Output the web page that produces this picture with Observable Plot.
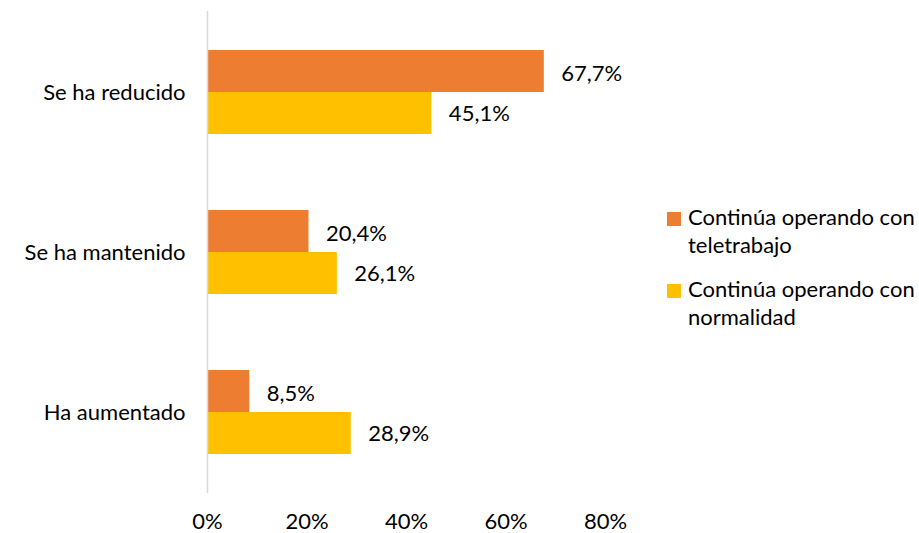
<!DOCTYPE html>
<html>
<head>
<meta charset="utf-8">
<script src="https://cdn.jsdelivr.net/npm/d3@7"></script>
<script src="https://cdn.jsdelivr.net/npm/@observablehq/plot@0.6"></script>
<style>
  html, body { margin: 0; padding: 0; background: #fff; overflow: hidden; }
  #wrap { position: relative; width: 919px; height: 533px; font-family: Lato, "Open Sans", sans-serif; }
  #legend { position: absolute; left: 667px; top: 203px; font-size: 22px; color: #000; line-height: 28px; }
  .item { display: flex; align-items: flex-start; margin-bottom: 16px; }
  .sw { width: 14px; height: 14px; margin-top: 9px; margin-right: 7px; flex: none; }
</style>
</head>
<body>
<div id="wrap"><div id="legend"></div></div>
<script>
const categories = ["Se ha reducido", "Se ha mantenido", "Ha aumentado"];
const seriesNames = ["Continúa operando con teletrabajo", "Continúa operando con normalidad"];
const seriesLegend = [["Continúa operando con", "teletrabajo"], ["Continúa operando con", "normalidad"]];
const teletrabajo = [67.7, 20.4, 8.5];
const normalidad = [45.1, 26.1, 28.9];
const xTicks = [0, 20, 40, 60, 80];
const colors = ["#ED7D31", "#FFC000"];

const tele = categories.map((c, i) => ({cat: c, v: teletrabajo[i]}));
const norm = categories.map((c, i) => ({cat: c, v: normalidad[i]}));
const fmt = v => v.toFixed(1).replace(".", ",") + "%";
const font = "Lato, 'Open Sans', sans-serif";

const chart = Plot.plot({
  width: 919,
  height: 533,
  marginLeft: 207,
  marginRight: 314,
  marginTop: 11,
  marginBottom: 40,
  style: {fontFamily: font, fontSize: "22px", color: "#000", background: "transparent"},
  x: {domain: [0, 80]},
  y: {domain: categories, paddingInner: 0.477, paddingOuter: 0.2385},
  marks: [
    Plot.barX(tele, {x: "v", y: "cat", fill: colors[0], insetBottom: 42}),
    Plot.barX(norm, {x: "v", y: "cat", fill: colors[1], insetTop: 42}),
    Plot.ruleX([0], {stroke: "#d9d9d9", strokeWidth: 1.5}),
    Plot.text(tele, {x: "v", y: "cat", text: d => fmt(d.v), dy: -19, dx: 17, textAnchor: "start", fill: "#000", fontSize: 22}),
    Plot.text(norm, {x: "v", y: "cat", text: d => fmt(d.v), dy: 21, dx: 17, textAnchor: "start", fill: "#000", fontSize: 22}),
    Plot.axisX({ticks: xTicks, tickFormat: d => d + "%", tickSize: 0, tickPadding: 20, label: null, fontSize: 22}),
    Plot.axisY({tickSize: 0, tickPadding: 22, label: null, fontSize: 22})
  ]
});
document.getElementById("wrap").prepend(chart);

const legend = document.getElementById("legend");
seriesLegend.forEach((lines, i) => {
  const it = document.createElement("div");
  it.className = "item";
  it.title = seriesNames[i];
  const sw = document.createElement("div");
  sw.className = "sw";
  sw.style.background = colors[i];
  const tx = document.createElement("div");
  tx.innerHTML = lines.join("<br>");
  it.append(sw, tx);
  legend.append(it);
});
</script>
</body>
</html>
